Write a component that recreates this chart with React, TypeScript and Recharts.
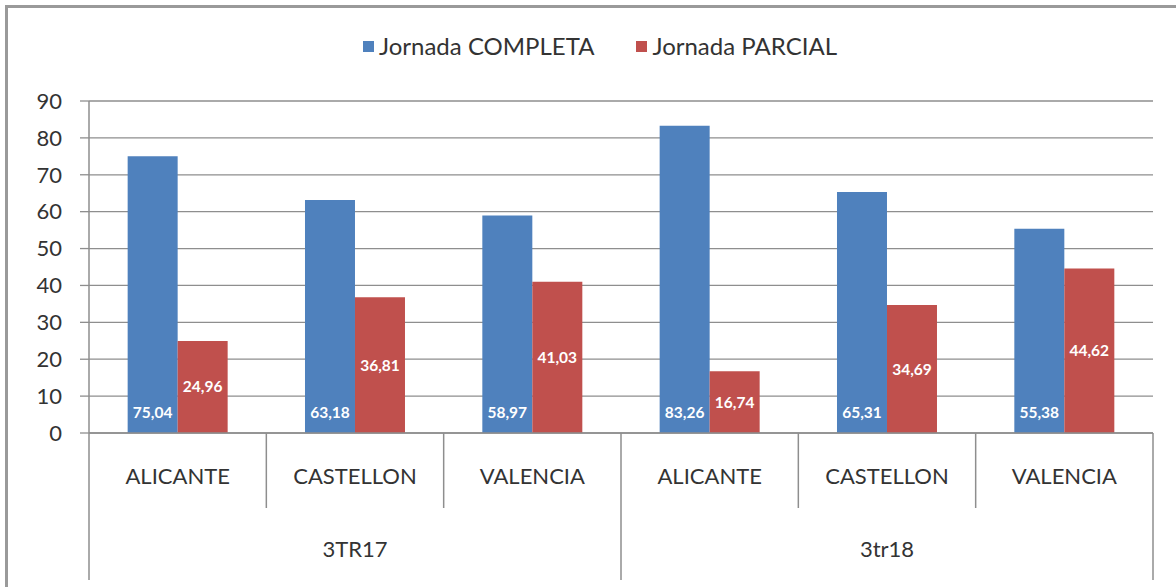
import React from "react";
import {
  BarChart,
  Bar,
  XAxis,
  YAxis,
  CartesianGrid,
  LabelList,
} from "recharts";

const provinces = ["ALICANTE", "CASTELLON", "VALENCIA", "ALICANTE", "CASTELLON", "VALENCIA"];
const periods = ["3TR17", "3TR17", "3TR17", "3tr18", "3tr18", "3tr18"];
const completa = [75.04, 63.18, 58.97, 83.26, 65.31, 55.38];
const parcial = [24.96, 36.81, 41.03, 16.74, 34.69, 44.62];
const yTicks = [0, 10, 20, 30, 40, 50, 60, 70, 80, 90];

const BLUE = "#4F81BD";
const RED = "#C0504D";
const GRID = "#8e8e8e";
const TEXT = "#333333";
const FONT = "Lato, 'Open Sans', sans-serif";

const data = provinces.map((p, i) => ({
  key: `${periods[i]}-${i}`,
  province: p,
  period: periods[i],
  completa: completa[i],
  parcial: parcial[i],
}));

const fmt = (v: number) => v.toFixed(2).replace(".", ",");

// two-level category axis: province row + period row, with separators
const CategoryTick = (props: any) => {
  const { x, y, payload, index } = props;
  const half = payload && payload.offset ? payload.offset : 88.7;
  const left = x - half;
  const row = data[index];
  const groupStart = index === 0 || data[index - 1].period !== row.period;
  const isLast = index === data.length - 1;
  const isMiddle = index % 3 === 1;
  return (
    <g>
      <line x1={left} y1={y} x2={left} y2={y + (groupStart ? 147 : 75)} stroke={GRID} strokeWidth={1.5} />
      {isLast && (
        <line x1={x + half} y1={y} x2={x + half} y2={y + 147} stroke={GRID} strokeWidth={1.5} />
      )}
      <text x={x} y={y + 51} textAnchor="middle" fill={TEXT} fontSize={22} fontFamily={FONT}>
        {row.province}
      </text>
      {isMiddle && (
        <text x={x} y={y + 124} textAnchor="middle" fill={TEXT} fontSize={22} fontFamily={FONT}>
          {row.period}
        </text>
      )}
    </g>
  );
};

const legendItems = [
  { label: "Jornada COMPLETA", color: BLUE },
  { label: "Jornada PARCIAL", color: RED },
];

export default function App() {
  return (
    <div
      style={{
        position: "absolute",
        left: 0,
        top: 0,
        width: 1176,
        height: 587,
        overflow: "hidden",
        background: "#fff",
      }}
    >
      <div
        style={{
          position: "absolute",
          left: 5,
          top: 5,
          width: 1200,
          height: 620,
          border: "3px solid #9a9a9a",
          boxSizing: "border-box",
        }}
      />
      <div
        style={{
          position: "absolute",
          left: 363,
          top: 31,
          display: "flex",
          alignItems: "center",
          gap: 42,
          fontFamily: FONT,
          fontSize: 24,
          color: TEXT,
          lineHeight: "30px",
        }}
      >
        {legendItems.map((item) => (
          <div key={item.label} style={{ display: "flex", alignItems: "center" }}>
            <span style={{ width: 11, height: 11, background: item.color, marginRight: 5, display: "inline-block" }} />
            <span>{item.label}</span>
          </div>
        ))}
      </div>
      <div style={{ position: "absolute", left: 0, top: 0 }}>
        <BarChart
          width={1176}
          height={587}
          data={data}
          margin={{ top: 101, right: 23, bottom: 0, left: 0 }}
          barCategoryGap="21.8%"
          barGap={0}
          style={{ fontFamily: FONT }}
        >
          <CartesianGrid horizontal vertical={false} stroke={GRID} strokeWidth={1.3} />
          <XAxis
            dataKey="key"
            height={154}
            axisLine={{ stroke: GRID, strokeWidth: 1.5 }}
            tickLine={false}
            tickSize={0}
            tickMargin={0}
            interval={0}
            tick={<CategoryTick />}
          />
          <YAxis
            width={89}
            domain={[0, 90]}
            ticks={yTicks}
            interval={0}
            axisLine={{ stroke: GRID, strokeWidth: 1.5 }}
            tickLine={{ stroke: GRID, strokeWidth: 1.3 }}
            tickSize={9}
            tickMargin={18}
            tick={{ fill: TEXT, fontSize: 22, fontFamily: FONT }}
          />
          <Bar dataKey="completa" fill={BLUE} isAnimationActive={false}>
            <LabelList
              dataKey="completa"
              position="insideBottom"
              offset={15}
              formatter={(v: any) => fmt(Number(v))}
              fill="#fff"
              fontSize={15.5}
              fontWeight="bold"
              fontFamily={FONT}
            />
          </Bar>
          <Bar dataKey="parcial" fill={RED} isAnimationActive={false}>
            <LabelList
              dataKey="parcial"
              position="center"
              formatter={(v: any) => fmt(Number(v))}
              fill="#fff"
              fontSize={15.5}
              fontWeight="bold"
              fontFamily={FONT}
            />
          </Bar>
        </BarChart>
      </div>
    </div>
  );
}
